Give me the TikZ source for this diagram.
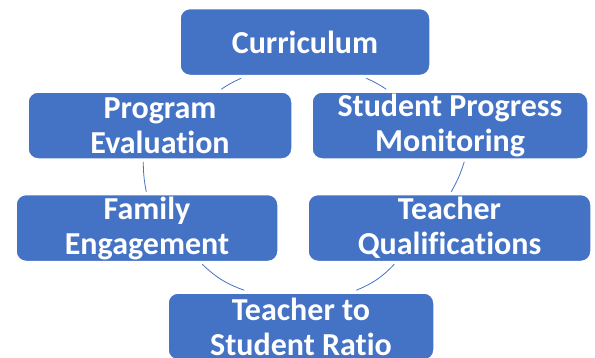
\documentclass[tikz,border=0pt]{standalone}
\usepackage{fontspec}
\setmainfont{Carlito}[Ligatures = NoCommon]
\usepackage{tikz}
\usetikzlibrary{positioning}
\definecolor{blk}{HTML}{4472C4}
\tikzset{box/.style = {fill = blk, draw = white, line width = 1.5, rounded corners = 10,
    text = white, align = center, minimum height = 67, inner sep = 0,
    font = \fontsize{32}{35}\selectfont\bfseries}}
\tikzset{link/.style = {blk, line width = 0.8}}

\begin{document}
\begin{tikzpicture}[x = 1pt, y = -1pt]
      \useasboundingbox (0, 0) rectangle (595, 357);

      \node [box, minimum width = 250] (curr) at (305, 42) {Curriculum};
      \node [box, minimum width = 264] (prog) at (160, 125.5) {Program\\Evaluation};
      \node [box, minimum width = 276] (spm) at (450, 125.5) {Student Progress\\Monitoring};
      \node [box, minimum width = 262] (fam) at (147, 228) {Family\\Engagement};
      \node [box, minimum width = 283] (qual) at (449.5, 228) {Teacher\\Qualifications};
      \node [box, minimum width = 266] (ratio) at (301, 326.5) {Teacher to\\Student Ratio};

      % cycle arcs, left side
      \draw [link] ([shift = {(62, 2)}] curr.south west) to [bend right = 5] ([shift = {(194, -2)}] prog.north west);
      \draw [link] ([shift = {(116, 2)}] prog.south west) to [bend right = 5] ([shift = {(131, -2)}] fam.north west);
      \draw [link] ([shift = {(187, 2)}] fam.south west) to [bend right = 12] ([shift = {(77, -2)}] ratio.north west);
      % right side
      \draw [link] ([shift = {(187, 2)}] curr.south west) to [bend left = 5] ([shift = {(75, -2)}] spm.north west);
      \draw [link] ([shift = {(153, 2)}] spm.south west) to [bend left = 6] ([shift = {(144, -2)}] qual.north west);
      \draw [link] ([shift = {(87, 2)}] qual.south west) to [bend left = 12] ([shift = {(189, -2)}] ratio.north west);
    \end{tikzpicture}
\end{document}
